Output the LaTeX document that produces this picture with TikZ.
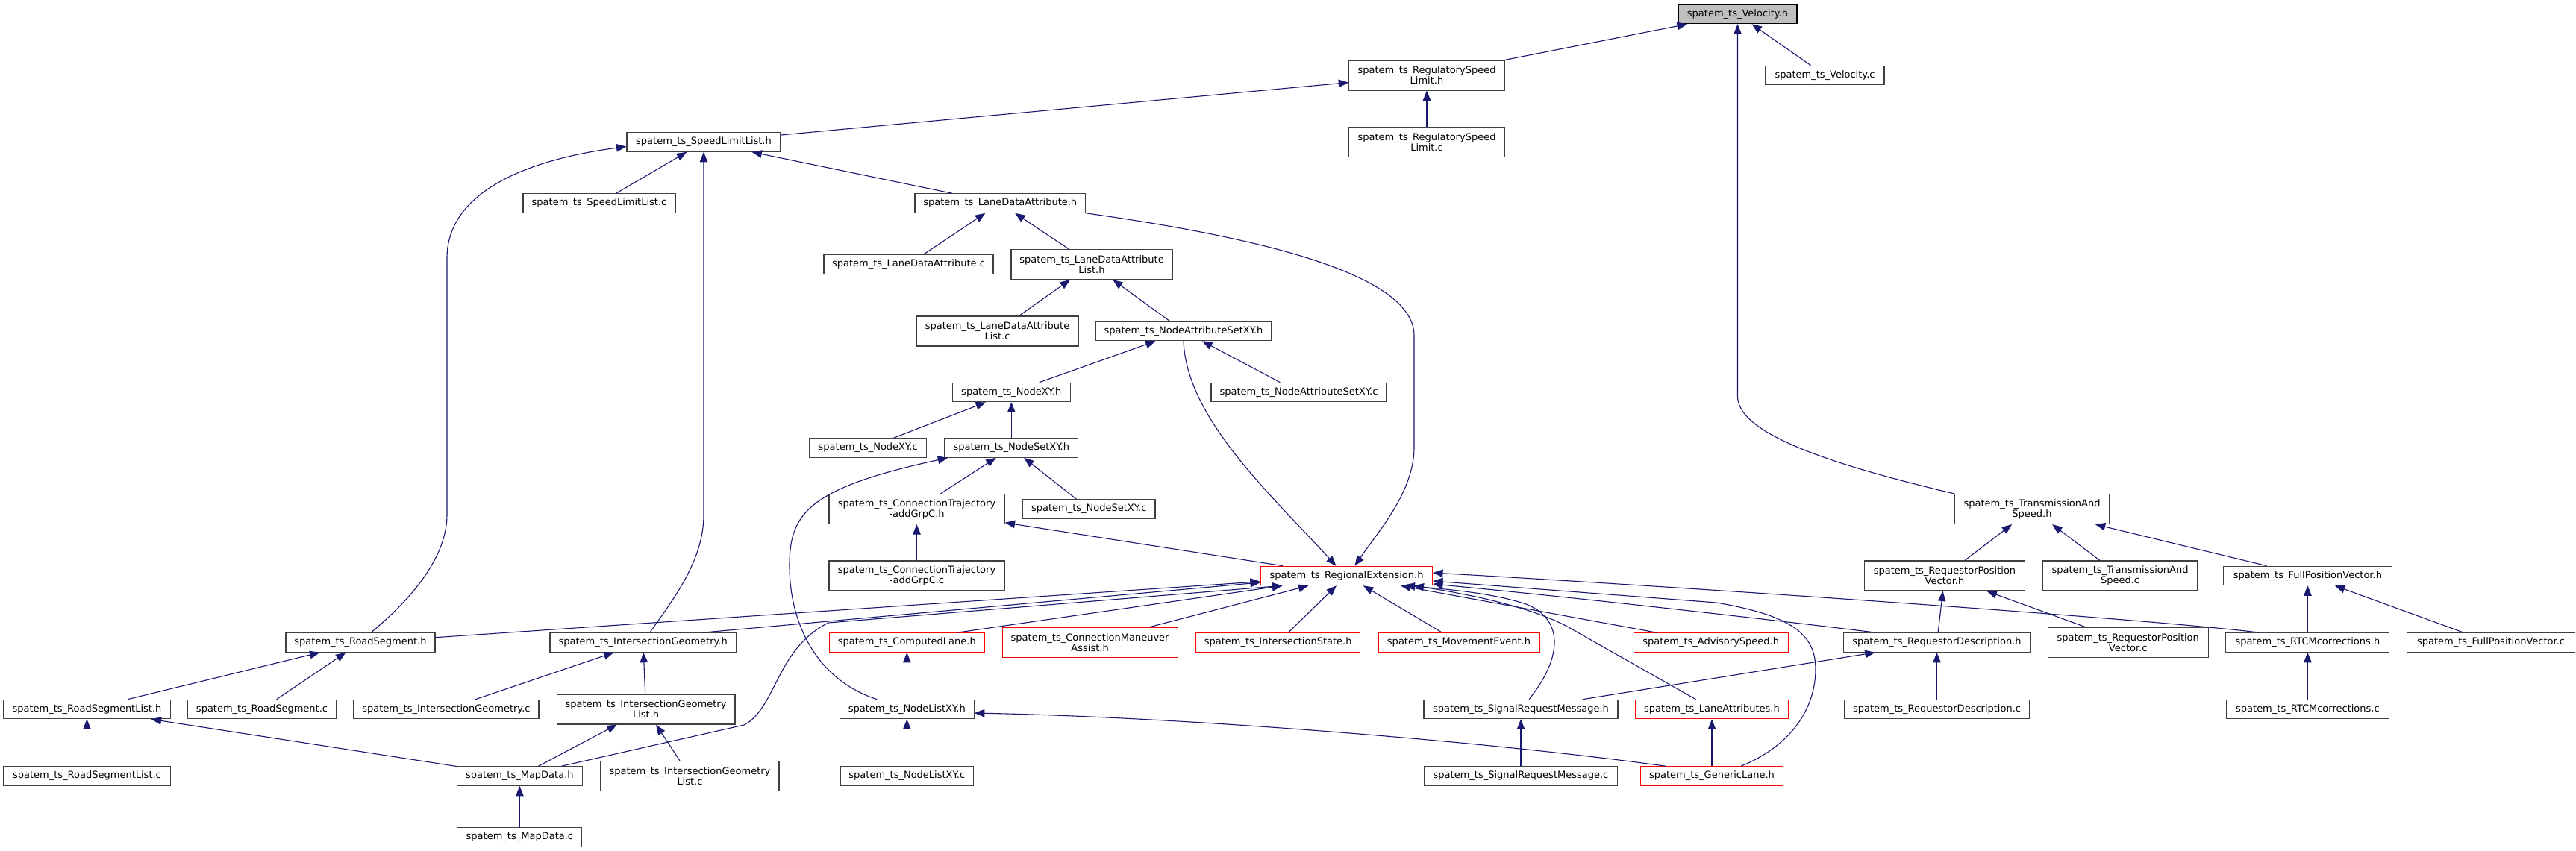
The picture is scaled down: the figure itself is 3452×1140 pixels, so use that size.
\documentclass[tikz,border=0pt]{standalone}
\usepackage{fontspec}
\setmainfont{DejaVu Sans}
\usetikzlibrary{arrows.meta}
\definecolor{mblue}{HTML}{191970}
\definecolor{bord}{HTML}{404040}
\definecolor{redb}{HTML}{FF0000}
\definecolor{rootgray}{HTML}{BFBFBF}
\begin{document}
\begin{tikzpicture}[x=1bp,y=-1bp,
  box/.style={draw=bord, line width=1.1bp, fill=white, inner sep=0pt, minimum height=25.5bp,
    font=\fontsize{13bp}{14bp}\selectfont, text=black, align=center},
  two/.style={minimum height=40bp},
  redbox/.style={draw=redb},
  rootbox/.style={fill=rootgray, draw=black},
  dep/.style={draw=mblue, line width=1.1bp, -{Triangle[length=13.5bp,width=10.5bp]}}
]
\fill[white] (0,0) rectangle (3452,1140);
\useasboundingbox (0,0) rectangle (3452,1140);
% R0-R2
\node[box,rootbox,minimum width=159bp] (velh) at (2328.5,19) {spatem\_ts\_Velocity.h};
\node[box,two,minimum width=208.5bp] (regsh) at (1912,101) {spatem\_ts\_RegulatorySpeed\\Limit.h};
\node[box,minimum width=159bp] (velc) at (2445.5,101) {spatem\_ts\_Velocity.c};
\node[box,minimum width=206bp] (sllh) at (943,190.5) {spatem\_ts\_SpeedLimitList.h};
\node[box,two,minimum width=208.5bp] (regsc) at (1912,190.5) {spatem\_ts\_RegulatorySpeed\\Limit.c};
% R3-R6
\node[box,minimum width=204bp] (sllc) at (803,272.5) {spatem\_ts\_SpeedLimitList.c};
\node[box,minimum width=228.5bp] (ldah) at (1340.25,272.5) {spatem\_ts\_LaneDataAttribute.h};
\node[box,minimum width=227bp] (ldac) at (1217.5,354.5) {spatem\_ts\_LaneDataAttribute.c};
\node[box,two,minimum width=216bp] (ldalh) at (1463,354.5) {spatem\_ts\_LaneDataAttribute\\List.h};
\node[box,two,minimum width=217bp] (ldalc) at (1336.5,444) {spatem\_ts\_LaneDataAttribute\\List.c};
\node[box,minimum width=235bp] (nash) at (1586,444) {spatem\_ts\_NodeAttributeSetXY.h};
\node[box,minimum width=157.5bp] (nxyh) at (1355.3,526) {spatem\_ts\_NodeXY.h};
\node[box,minimum width=235bp] (nasc) at (1740.5,526) {spatem\_ts\_NodeAttributeSetXY.c};
% R7-R9
\node[box,minimum width=156.4bp] (nxyc) at (1163.2,600.5) {spatem\_ts\_NodeXY.c};
\node[box,minimum width=179bp] (nsh) at (1355.3,600.5) {spatem\_ts\_NodeSetXY.h};
\node[box,two,minimum width=235bp] (cth) at (1228.5,682.5) {spatem\_ts\_ConnectionTrajectory\\-addGrpC.h};
\node[box,minimum width=177.5bp] (nsc) at (1459.25,682.5) {spatem\_ts\_NodeSetXY.c};
\node[box,two,minimum width=207bp] (tash) at (2723,682.5) {spatem\_ts\_TransmissionAnd\\Speed.h};
\node[box,two,minimum width=235bp] (ctc) at (1228.5,772) {spatem\_ts\_ConnectionTrajectory\\-addGrpC.c};
\node[box,redbox,minimum width=230bp] (rex) at (1804.5,772) {spatem\_ts\_RegionalExtension.h};
\node[box,two,minimum width=214.5bp] (rpvh) at (2606,772) {spatem\_ts\_RequestorPosition\\Vector.h};
\node[box,two,minimum width=207.3bp] (tasc) at (2841,772) {spatem\_ts\_TransmissionAnd\\Speed.c};
\node[box,minimum width=225.3bp] (fpvh) at (3092.4,772) {spatem\_ts\_FullPositionVector.h};
% R10
\node[box,minimum width=200bp] (rsh) at (483,861.5) {spatem\_ts\_RoadSegment.h};
\node[box,minimum width=249.4bp] (igh) at (861.7,861.5) {spatem\_ts\_IntersectionGeometry.h};
\node[box,redbox,minimum width=207.3bp] (clh) at (1215.3,861.5) {spatem\_ts\_ComputedLane.h};
\node[box,redbox,two,minimum width=235bp] (cmah) at (1460.6,861.5) {spatem\_ts\_ConnectionManeuver\\Assist.h};
\node[box,redbox,minimum width=220bp] (ish) at (1712.7,861.5) {spatem\_ts\_IntersectionState.h};
\node[box,redbox,minimum width=216bp] (meh) at (1955,861.5) {spatem\_ts\_MovementEvent.h};
\node[box,redbox,minimum width=207bp] (ash) at (2292.7,861.5) {spatem\_ts\_AdvisorySpeed.h};
\node[box,minimum width=249.7bp] (rdh) at (2595.5,861.5) {spatem\_ts\_RequestorDescription.h};
\node[box,two,minimum width=215.3bp] (rpvc) at (2851.7,861.5) {spatem\_ts\_RequestorPosition\\Vector.c};
\node[box,minimum width=219bp] (rtcmh) at (3092.4,861.5) {spatem\_ts\_RTCMcorrections.h};
\node[box,minimum width=224.6bp] (fpvc) at (3338,861.5) {spatem\_ts\_FullPositionVector.c};
% R11
\node[box,minimum width=223.5bp] (rslh) at (116.5,951) {spatem\_ts\_RoadSegmentList.h};
\node[box,minimum width=199bp] (rsc) at (351,951) {spatem\_ts\_RoadSegment.c};
\node[box,minimum width=248bp] (igc) at (598,951) {spatem\_ts\_IntersectionGeometry.c};
\node[box,two,minimum width=238.7bp] (iglh) at (865.6,951) {spatem\_ts\_IntersectionGeometry\\List.h};
\node[box,minimum width=180bp] (nlh) at (1215.3,951) {spatem\_ts\_NodeListXY.h};
\node[box,minimum width=260bp] (srmh) at (2038,951) {spatem\_ts\_SignalRequestMessage.h};
\node[box,redbox,minimum width=204.3bp] (lah) at (2294,951) {spatem\_ts\_LaneAttributes.h};
\node[box,minimum width=248bp] (rdc) at (2595.5,951) {spatem\_ts\_RequestorDescription.c};
\node[box,minimum width=217.6bp] (rtcmc) at (3092.4,951) {spatem\_ts\_RTCMcorrections.c};
% R12-R13
\node[box,minimum width=223.5bp] (rslc) at (116.5,1040.5) {spatem\_ts\_RoadSegmentList.c};
\node[box,minimum width=168bp] (mdh) at (696.4,1040.5) {spatem\_ts\_MapData.h};
\node[box,two,minimum width=239bp] (iglc) at (924.5,1040.5) {spatem\_ts\_IntersectionGeometry\\List.c};
\node[box,minimum width=178.6bp] (nlc) at (1215.3,1040.5) {spatem\_ts\_NodeListXY.c};
\node[box,minimum width=259bp] (srmc) at (2038,1040.5) {spatem\_ts\_SignalRequestMessage.c};
\node[box,redbox,minimum width=191bp] (glh) at (2294,1040.5) {spatem\_ts\_GenericLane.h};
\node[box,minimum width=167bp] (mdc) at (696.4,1122.5) {spatem\_ts\_MapData.c};
% edges
\draw[dep] (regsh) -- (velh);
\draw[dep] (velc) -- (velh);
\draw[dep] (tash.north west) .. controls (2420,615) and (2328.5,575) .. (2328.5,531) -- (velh.south);
\draw[dep] (sllh) -- (regsh);
\draw[dep] (regsc) -- (regsh);
\draw[dep] (sllc) -- (sllh);
\draw[dep] (ldah) -- (sllh);
\draw[dep] ([xshift=14bp]rsh.north) .. controls (555,800) and (599,745) .. (599,690) -- (599,346) .. controls (599,260) and (700,215) .. ([yshift=-6bp]sllh.west);
\draw[dep] ([xshift=9bp]igh.north) .. controls (905,800) and (943,750) .. (943,690) -- (sllh.south);
\draw[dep] (ldac) -- (ldah);
\draw[dep] (ldalh) -- (ldah);
\draw[dep] (ldah.south east) .. controls (1700,320) and (1895,370) .. (1895,450) -- (1895,600) .. controls (1895,660) and (1845,715) .. ([xshift=11bp]rex.north);
\draw[dep] (ldalc) -- (ldalh);
\draw[dep] (nash) -- (ldalh);
\draw[dep] (nxyh) -- (nash);
\draw[dep] (nasc) -- (nash);
\draw[dep] (nash.south) .. controls (1590,560) and (1700,660) .. ([xshift=-14bp]rex.north);
\draw[dep] (nsh) -- (nxyh);
\draw[dep] (nxyc) -- (nxyh);
\draw[dep] (cth) -- (nsh);
\draw[dep] (nsc) -- (nsh);
\draw[dep] ([xshift=-40bp]nlh.north) .. controls (1090,910) and (1058,830) .. (1058,759) .. controls (1058,690) and (1080,655) .. ([xshift=-85bp]nsh.south);
\draw[dep] (ctc) -- (cth);
\draw[dep] (rex) -- (cth);
\draw[dep] (rsh) -- (rex);
\draw[dep] ([xshift=-46bp]igh.north east) -- ([yshift=-9bp]rex.west);
\draw[dep] ([xshift=56bp]mdh.north) -- (997,972) .. controls (1040,950) and (1040,870) .. (1110,835) -- ([xshift=-86bp]rex.south);
\draw[dep] ([xshift=67bp]clh.north) -- ([xshift=-86bp]rex.south);
\draw[dep] (cmah) -- (rex);
\draw[dep] (ish) -- (rex);
\draw[dep] (meh) -- (rex);
\draw[dep] (ash) -- (rex);
\draw[dep] ([xshift=11bp]srmh.north) .. controls (2095,880) and (2095,830) .. (2045,810) .. controls (2000,795) and (1940,790) .. ([xshift=78bp]rex.south);
\draw[dep] ([xshift=-21.5bp]lah.north) -- (2102,841) .. controls (2060,818) and (1990,800) .. ([xshift=90bp]rex.south);
\draw[dep] ([xshift=39bp]glh.north) .. controls (2400,1000) and (2433,950) .. (2433,897) .. controls (2433,850) and (2400,825) .. (2300,808) -- ([yshift=-7bp]rex.east);
\draw[dep] ([xshift=-81bp]rdh.north) .. controls (2350,828) and (2100,800) .. ([yshift=-11bp]rex.east);
\draw[dep] ([xshift=-64bp]rtcmh.north) .. controls (2880,830) and (2305,790) .. ([yshift=4bp]rex.east);
\draw[dep] (rdh) -- (rpvh);
\draw[dep] (rpvc) -- (rpvh);
\draw[dep] (rpvh) -- (tash);
\draw[dep] (tasc) -- (tash);
\draw[dep] (fpvh) -- (tash);
\draw[dep] (rtcmh) -- (fpvh);
\draw[dep] (fpvc) -- (fpvh);
\draw[dep] (rtcmc) -- (rtcmh);
\draw[dep] (rdc) -- (rdh);
\draw[dep] (srmh) -- (rdh);
\draw[dep] (srmc) -- (srmh);
\draw[dep] (glh) -- (lah);
\draw[dep] ([xshift=-62bp]glh.north) .. controls (2000,995) and (1600,962) .. ([yshift=-5bp]nlh.east);
\draw[dep] (nlh) -- (clh);
\draw[dep] (nlc) -- (nlh);
\draw[dep] (rslh) -- (rsh);
\draw[dep] (rsc) -- (rsh);
\draw[dep] (rslc) -- (rslh);
\draw[dep] (mdh) -- (rslh);
\draw[dep] (igc) -- (igh);
\draw[dep] (iglh) -- (igh);
\draw[dep] (mdh) -- (iglh);
\draw[dep] (iglc) -- (iglh);
\draw[dep] (mdc) -- (mdh);
\end{tikzpicture}
\end{document}
